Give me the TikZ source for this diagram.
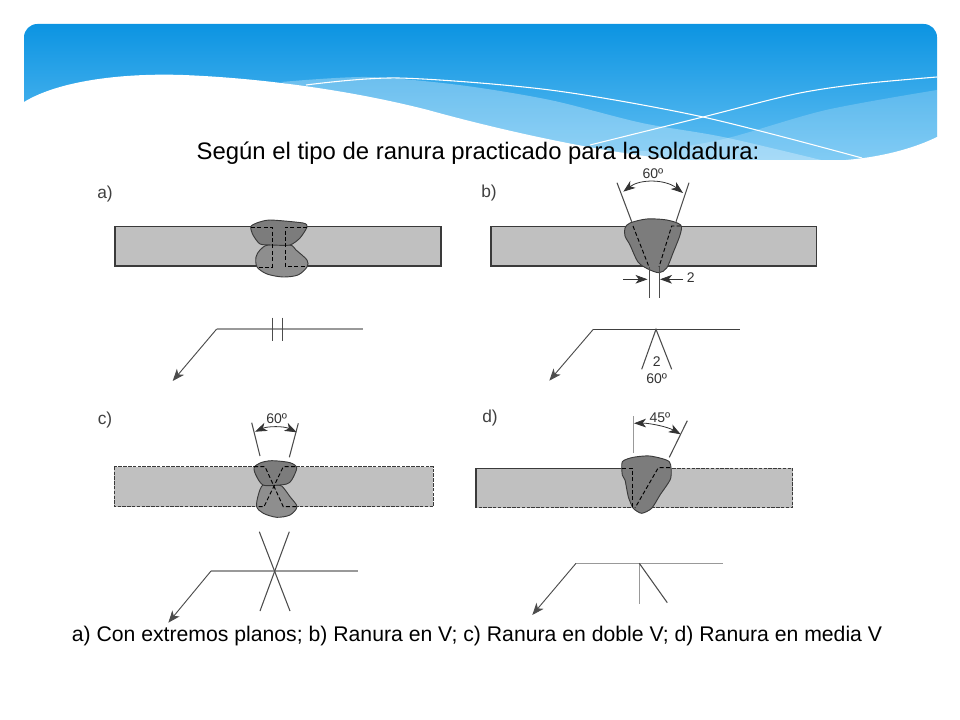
\documentclass[tikz,border=0pt]{standalone}
\usepackage{fontspec}
\setmainfont{Liberation Sans}
\definecolor{bannertop}{HTML}{0C94E2}
\definecolor{bannerlow}{HTML}{62BFF2}
\definecolor{platefill}{HTML}{C0C0C0}
\definecolor{welddark}{HTML}{7C7C7C}
\definecolor{weldlight}{HTML}{8E8E8E}
\definecolor{edgedark}{HTML}{3A3A3A}
\usetikzlibrary{arrows.meta}
\tikzset{
    plate/.style={draw=edgedark, fill=platefill, line width=0.8pt},
    platebody/.style={fill=platefill},
    plateedge/.style={draw=edgedark, line width=0.8pt},
    plateseam/.style={plateedge, dash pattern=on 2.6pt off 1pt},
    weldtop/.style={draw=edgedark, fill=welddark, line width=0.7pt},
    weldlow/.style={draw=edgedark, fill=weldlight, line width=0.7pt},
    seam/.style={draw=black, dash pattern=on 3pt off 1.8pt, line width=0.7pt},
    refline/.style={draw=gray!80, line width=1pt},
    leader/.style={draw=black!70, line width=0.7pt, -{Stealth[length=9pt,width=7pt,inset=2.5pt]}},
    mark line/.style={draw=black!70, line width=0.8pt},
    dimline/.style={draw=black!80, line width=0.6pt, {Stealth[length=9pt,width=6.5pt,inset=2.5pt]}-{Stealth[length=9pt,width=6.5pt,inset=2.5pt]}},
    dimarrow/.style={draw=black!80, line width=0.6pt, -{Stealth[length=9pt,width=6.5pt,inset=2.5pt]}},
    partlabel/.style={font=\fontsize{13}{15}\selectfont, text=black!75, inner sep=0pt},
    dimlabel/.style={font=\fontsize{10.5}{12}\selectfont, text=black!80, inner sep=0pt},
    slidetext/.style={font=\fontsize{17.9}{20}\selectfont, inner sep=0pt},
    captiontext/.style={font=\fontsize{15.9}{18}\selectfont, inner sep=0pt}
}
\begin{document}
\begin{tikzpicture}[x=0.75pt, y=-0.75pt]
    \useasboundingbox (0,0) rectangle (960,720);

    % banner
    \begin{scope}
        \clip[rounded corners=10pt] (24,24) rectangle (937,175);
        \clip (24,24) rectangle (937,160);
        \shade[top color=bannertop, bottom color=bannerlow] (24,24) rectangle (937,160);
        \fill[white, opacity=0.3] plot[smooth] coordinates {(281,82) (367,77) (459,85) (550,100) (642,123) (728,138) (862,170)} -- (560,170) -- cycle;
        \fill[white, opacity=0.2] plot[smooth] coordinates {(937,90) (826,110) (728,138) (660,150) (600,152)} -- (640,170) -- (937,170) -- cycle;
        \fill[white] (24,102) .. controls (60,80) and (125,73) .. (183,75)
            .. controls (260,78) and (350,90) .. (428,110)
            .. controls (500,130) and (610,155) .. (691,161)
            -- (800,161) .. controls (850,163) and (900,155) .. (937,137)
            -- (937,175) -- (24,175) -- cycle;
        \draw[white, line width=0.8pt] plot[smooth] coordinates {(306,85) (398,78) (550,90) (703,117) (862,158)};
        \draw[white, line width=0.8pt] plot[smooth] coordinates {(590,145) (703,117) (795,94) (860,84) (937,77)};
    \end{scope}
    \fill[white] (936.8,137) rectangle (939,162);
    \fill[white] (22,103) rectangle (24.2,162);

    \node[slidetext] (title) at (478,153) {Según el tipo de ranura practicado para la soldadura:};
    \node[captiontext] (caption) at (477,636) {a) Con extremos planos; b) Ranura en V; c) Ranura en doble V; d) Ranura en media V};

    \node[partlabel] (labela) at (105,194) {a)};
    \node[partlabel] (labelb) at (489,193) {b)};
    \node[partlabel] (labelc) at (105,420) {c)};
    \node[partlabel] (labeld) at (490,418) {d)};

    % a)
    \draw[plate] (115,226.7) rectangle (441,266);
    \draw[weldlow] plot[smooth cycle, tension=0.5] coordinates {(268,245) (290,245) (296,250) (307,260) (307,267) (298,275) (283,277) (267,274) (257,267) (256,257) (260,250)};
    \draw[weldtop] plot[smooth cycle, tension=0.4] coordinates {(250.7,226.7) (256.7,223) (270,220) (303,223) (307,227) (300,238) (290,245) (272,245) (260,244) (253,235)};
    \draw[seam] (251,227) -- (272,227) -- (272,267) -- (257,267);
    \draw[seam] (307,227) -- (285,227) -- (285,266) -- (307,266);
    \coordinate (kneea) at (216.7,329);
    \coordinate (enda) at (363,329);
    \coordinate (tipa) at (172.7,381);
    \coordinate (ticka) at (272.7,317.7);
    \coordinate (tickab) at (272.7,341);
    \coordinate (tickc) at (282.3,317.7);
    \coordinate (tickd) at (282.3,341);
    \draw[refline] (kneea) -- (enda);
    \draw[leader] (kneea) -- (tipa);
    \draw[mark line] (ticka) -- (tickab);
    \draw[mark line] (tickc) -- (tickd);

    % b)
    \draw[plate] (491,226.7) rectangle (816.7,266);
    \draw[weldtop] plot[smooth cycle, tension=0.5] coordinates {(625,228) (630,223) (646.7,219) (666.7,220) (680.7,225) (680,235) (673,253) (666.7,268) (659,272.7) (648,269) (638,262) (630,245) (625,236)};
    \draw[seam] (633,226) -- (649,267);
    \draw[seam] (680.7,226) -- (671.7,226) -- (659,267);
    \coordinate (gapl) at (649.3,267);
    \coordinate (gaplb) at (649.3,298);
    \coordinate (gapr) at (659.3,267);
    \coordinate (gaprb) at (659.3,298);
    \draw[mark line] (gapl) -- (gaplb);
    \draw[mark line] (gapr) -- (gaprb);
    \coordinate (bleaderla) at (617,182.7);
    \coordinate (bleaderlb) at (631.7,221.7);
    \coordinate (bleaderra) at (689,182.7);
    \coordinate (bleaderrb) at (676,221.7);
    \draw[mark line] (bleaderla) -- (bleaderlb);
    \draw[mark line] (bleaderra) -- (bleaderrb);
    \coordinate (barcl) at (623.3,191.7);
    \coordinate (barcr) at (683,193);
    \draw[dimline] (barcl) .. controls (640,179) and (665,179) .. (barcr);
    \node[dimlabel] (angleb) at (653,174) {60º};
    \coordinate (gapinl) at (623,279.3);
    \coordinate (gapoutl) at (647.5,279.3);
    \coordinate (gapinr) at (683,279.3);
    \coordinate (gapoutr) at (660,279.3);
    \draw[dimarrow] (gapinl) -- (gapoutl);
    \draw[dimarrow] (gapinr) -- (gapoutr);
    \node[dimlabel] (gapb) at (690.7,278) {2};
    \coordinate (kneeb) at (593.3,329.3);
    \coordinate (endb) at (740,329.3);
    \coordinate (tipb) at (549.3,380.7);
    \coordinate (veeb) at (656,329.3);
    \coordinate (veebl) at (641.7,369.3);
    \coordinate (veebr) at (671.7,369.3);
    \draw[refline, draw=black!75] (kneeb) -- (endb);
    \draw[leader] (kneeb) -- (tipb);
    \draw[mark line] (veebl) -- (veeb) -- (veebr);
    \node[dimlabel] (symgapb) at (656.7,361.7) {2};
    \node[dimlabel] (symangleb) at (656.7,378.3) {60º};

    % c)
    \fill[platebody] (114.3,466.7) rectangle (433.3,506.7);
    \draw[plateseam] (114.3,466.7) rectangle (433.3,506.7);
    \draw[weldlow] plot[smooth cycle, tension=0.5] coordinates {(263,485) (275,485.3) (281.7,486) (290,496.7) (297,506.7) (290,515) (276.7,517.3) (263.3,513.3) (256.7,506.7) (258.3,495)};
    \draw[weldtop] plot[smooth cycle, tension=0.5] coordinates {(254,468) (260,463) (271.7,460.7) (290,462.7) (296.7,468) (291.7,480) (286.7,484) (275,485.3) (263,485) (256.7,476.7)};
    \draw[seam] (254,466.7) -- (265,466.7) -- (283.3,506.7) -- (296.7,506.7);
    \draw[seam] (295,466.7) -- (283.3,466.7) -- (264,506.7) -- (258,506.7);
    \coordinate (cleaderla) at (251.7,422.7);
    \coordinate (cleaderlb) at (260,456);
    \coordinate (cleaderra) at (298.3,423.3);
    \coordinate (cleaderrb) at (289.3,457.3);
    \draw[mark line] (cleaderla) -- (cleaderlb);
    \draw[mark line] (cleaderra) -- (cleaderrb);
    \coordinate (carcl) at (255,431.7);
    \coordinate (carcr) at (296.7,432.3);
    \draw[dimline] (carcl) .. controls (268,426) and (284,426) .. (carcr);
    \node[dimlabel] (anglec) at (276.7,419) {60º};
    \coordinate (kneec) at (211,571);
    \coordinate (endc) at (358.3,571);
    \coordinate (tipc) at (168.3,622.7);
    \coordinate (crossa) at (259.3,531.7);
    \coordinate (crossb) at (290,611);
    \coordinate (crossc) at (289.3,531.7);
    \coordinate (crossd) at (260,611);
    \draw[refline] (kneec) -- (endc);
    \draw[leader] (kneec) -- (tipc);
    \draw[mark line] (crossa) -- (crossb);
    \draw[mark line] (crossc) -- (crossd);

    % d)
    \fill[platebody] (476,468.3) rectangle (792.7,507.7);
    \draw[plateedge] (622,468.3) -- (476,468.3) -- (476,507.7);
    \draw[plateseam] (658,468.3) -- (792.7,468.3) -- (792.7,507.7) -- (476,507.7);
    \draw[weldtop] plot[smooth cycle, tension=0.4] coordinates {(622.3,461.7) (633.3,457.3) (650,456) (669.3,461.7) (670.7,478.3) (660,495) (651.7,508.3) (641.7,513.3) (633.3,508.3) (628.3,496.7) (625,480) (622.3,475)};
    \draw[seam] (622.3,468.3) -- (632.7,468.3) -- (632.7,506.7);
    \draw[seam] (670,467.7) -- (658.3,467.7) -- (635,508);
    \coordinate (dleaderla) at (633.4,416);
    \coordinate (dleaderlb) at (633.4,452.7);
    \coordinate (dleaderra) at (687.3,420.7);
    \coordinate (dleaderrb) at (669.3,457.3);
    \draw[refline] (dleaderla) -- (dleaderlb);
    \draw[mark line] (dleaderra) -- (dleaderrb);
    \coordinate (darcl) at (634,423.3);
    \coordinate (darcr) at (680.7,434.3);
    \draw[dimline] (darcl) .. controls (650,423) and (668,427) .. (darcr);
    \node[dimlabel] (angled) at (660,417.7) {45º};
    \coordinate (kneed) at (576,563.3);
    \coordinate (endd) at (722.7,563.3);
    \coordinate (tipd) at (532.3,615);
    \coordinate (stemd) at (639.3,563.3);
    \coordinate (stemdb) at (639.3,604);
    \coordinate (slantd) at (667.3,602.7);
    \draw[refline] (kneed) -- (endd);
    \draw[leader] (kneed) -- (tipd);
    \draw[refline] (stemd) -- (stemdb);
    \draw[mark line] (stemd) -- (slantd);
\end{tikzpicture}
\end{document}
